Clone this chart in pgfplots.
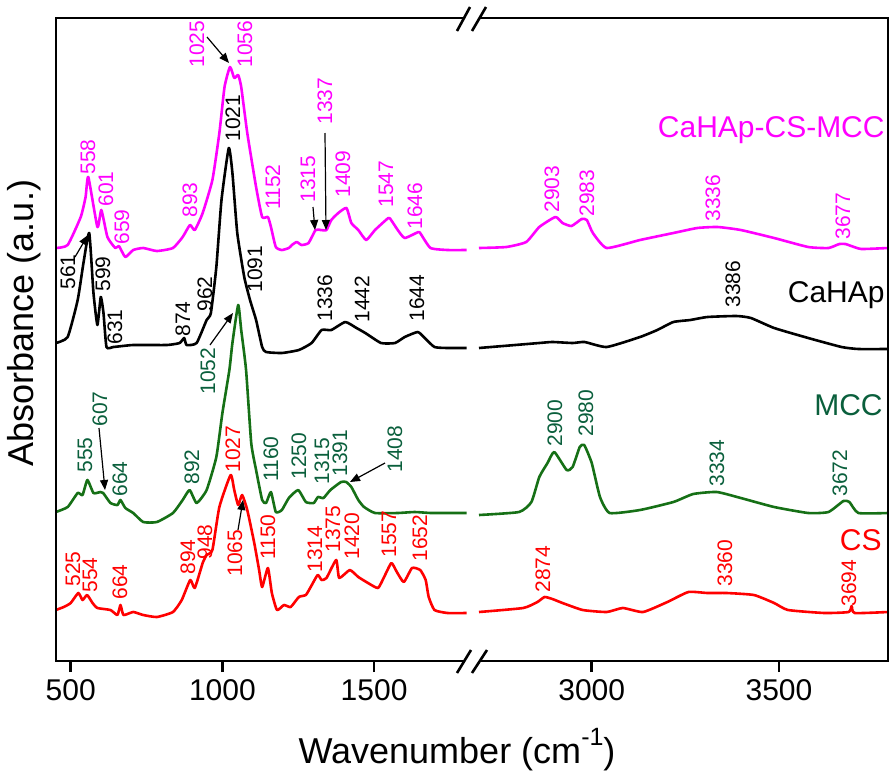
\documentclass[border=0pt]{standalone}
\usepackage{fontspec}
\setmainfont{Liberation Sans}
\usepackage{pgfplots}
\pgfplotsset{compat=1.18}
\usetikzlibrary{arrows.meta}

\definecolor{mag}{RGB}{255,0,255}
\definecolor{grn}{RGB}{22,112,22}
\definecolor{grntxt}{RGB}{10,95,60}
\definecolor{rd}{RGB}{255,0,0}

\pgfplotsset{
  ftir/.style={
    scale only axis, height=321.5pt,
    ymin=0, ymax=643,
    axis line style={draw=none},
    ytick=\empty,
    xtick pos=left,
    tick align=outside,
    major tick length=5.5pt,
    x tick style={line width=1.3pt, black},
    ticklabel style={font=\fontsize{15}{18}\selectfont},
    /pgf/number format/assume math mode=true,
    /pgf/number format/1000 sep={},
    clip=false,
    every axis plot/.append style={line width=1.3pt, line join=round, smooth, tension=0.3},
  },
}
\tikzset{
  pk/.style={rotate=90, anchor=west, inner sep=0pt, font=\fontsize{10.5}{12}\selectfont},
  nm/.style={anchor=base east, inner sep=0pt, font=\fontsize{15}{18}\selectfont},
  arr/.style={line width=0.6pt, -{Triangle[length=5pt, width=4pt]}},
}

\begin{document}
\begin{tikzpicture}
% left part, 450-1826 cm-1  (y = offset absorbance, arbitrary units)
\begin{axis}[ftir, at={(28pt,-330.5pt)}, anchor=south west, width=208.5pt,
  xmin=451.5, xmax=1826, xtick={500,1000,1500}]
% CaHAp-CS-MCC
\addplot[mag] coordinates {
(451,413)(490,416)(533,444)(549,464)(558,484)(588,434)(601,451)(621,424)(647,413)(659,415)
(680,404)(706,411)(739,413)(784,410)(837,413)(869,424)(893,436)(909,431)(935,448)(967,481)
(990,528)(1007,574)(1025,594)(1039,583)(1052,586)(1062,574)(1082,528)(1111,474)(1131,444)
(1150,444)(1160,434)(1176,414)(1196,411)(1219,413)(1229,416)(1245,419)(1261,416)(1284,418)
(1307,431)(1324,431)(1343,431)(1359,441)(1382,448)(1409,453)(1425,438)(1448,431)(1474,421)
(1503,431)(1547,443)(1556,441)(1578,431)(1601,423)(1646,429)(1654,427)(1686,413)(1742,411)(1805,411)
};
% CaHAp
\addplot[black] coordinates {
(451,318)(490,324)(523,361)(542,398)(561,428)(575,368)(588,336)(599,364)(608,348)(618,314)
(641,314)(706,316)(817,316)(859,318)(874,323)(882,316)(915,318)(948,341)(962,348)(980,394)
(997,461)(1021,513)(1033,488)(1049,428)(1072,384)(1091,361)(1111,341)(1131,314)(1144,309)
(1196,308)(1252,311)(1294,318)(1327,331)(1359,331)(1405,339)(1442,333)(1471,328)(1523,318)
(1569,318)(1601,324)(1644,329)(1667,323)(1699,314)(1742,313)(1805,313)
};
% MCC
\addplot[grn] coordinates {
(451,149)(490,154)(523,168)(539,166)(555,181)(575,168)(598,169)(607,168)(631,158)(654,156)
(664,161)(680,153)(706,148)(739,139)(784,139)(837,148)(869,161)(892,171)(915,158)(948,171)
(980,204)(1000,248)(1023,291)(1033,318)(1052,356)(1062,331)(1078,291)(1095,218)(1111,191)
(1131,161)(1144,158)(1160,169)(1176,149)(1196,151)(1219,163)(1250,171)(1275,159)(1301,158)
(1315,164)(1333,163)(1356,171)(1391,179)(1408,179)(1425,174)(1448,161)(1467,154)(1503,148)
(1578,148)(1634,149)(1686,148)(1742,148)(1805,148)
};
% CS
\addplot[rd] coordinates {
(451,51)(477,54)(500,58)(525,68)(539,61)(554,66)(572,58)(588,53)(631,51)(654,46)(664,56)
(674,46)(706,49)(739,46)(784,44)(837,49)(866,61)(894,81)(909,73)(935,98)(948,106)(967,111)
(990,154)(1027,186)(1039,171)(1052,156)(1065,166)(1082,151)(1105,118)(1121,91)(1131,74)
(1150,93)(1163,68)(1180,51)(1203,56)(1225,54)(1252,64)(1275,66)(1291,74)(1314,86)(1327,81)
(1343,83)(1375,101)(1385,83)(1420,91)(1448,84)(1480,78)(1513,73)(1533,84)(1557,98)(1575,89)
(1598,79)(1625,93)(1652,91)(1670,81)(1680,64)(1699,51)(1742,48)(1805,48)
};
\end{axis}

% right part, 2683-3791 cm-1
\begin{axis}[ftir, at={(236.5pt,-330.5pt)}, anchor=south west, width=207.5pt,
  xmin=2683, xmax=3791, xtick={3000,3500}]
\addplot[mag] coordinates {
(2699,413)(2772,414)(2825,419)(2860,434)(2903,444)(2922,438)(2946,435)(2973,442)(2987,441)
(3003,428)(3040,413)(3129,421)(3218,428)(3282,433)(3336,434)(3398,431)(3487,423)(3578,414)
(3632,413)(3661,417)(3677,417)(3693,415)(3720,412)(3791,413)
};
\addplot[black] coordinates {
(2699,313)(2860,318)(2895,319)(2949,318)(2981,319)(3040,314)(3129,324)(3175,331)(3218,339)
(3263,341)(3309,344)(3386,345)(3425,343)(3487,333)(3578,323)(3667,314)(3712,312)(3791,312)
};
\addplot[grn] coordinates {
(2699,146)(2806,149)(2839,159)(2860,184)(2882,198)(2900,209)(2933,191)(2949,194)(2968,214)
(2980,216)(3000,198)(3022,164)(3048,148)(3129,151)(3218,159)(3271,167)(3334,169)(3398,163)
(3487,154)(3578,148)(3632,149)(3672,160)(3688,159)(3712,148)(3791,148)
};
\addplot[rd] coordinates {
(2699,49)(2817,53)(2855,59)(2874,64)(2895,62)(2922,58)(2976,51)(3040,49)(3083,53)(3137,49)
(3202,59)(3258,69)(3309,68)(3360,68)(3433,66)(3487,58)(3524,51)(3621,48)(3686,49)(3694,55)
(3702,48)(3791,49)
};
\end{axis}

% frame, axis break, labels (pixel grid of the figure)
\begin{scope}[x=0.5pt, y=-0.5pt]
\path (0,0) rectangle (891,772);
\draw[line width=1.3pt] (464,18) -- (56,18) -- (56,661) -- (464,661);
\draw[line width=1.3pt] (479,18) -- (888,18) -- (888,661) -- (479,661);
\draw[line width=1.3pt] (457,31) -- (470,7) (472,31) -- (486,7);
\draw[line width=1.3pt] (457,673) -- (471,650) (472,673) -- (487,650);

\node[rotate=90, anchor=base, inner sep=0pt, font=\fontsize{18}{21}\selectfont] at (33,323) {Absorbance (a.u.)};
\node[anchor=base, inner sep=0pt, font=\fontsize{18}{21}\selectfont] at (457,763)
  {Wavenumber (cm\raisebox{9pt}{\fontsize{12.5}{14}\selectfont -1})};

% sample names
\node[nm, text=mag] at (885,137) {CaHAp-CS-MCC};
\node[nm, text=black] at (885,302) {CaHAp};
\node[nm, text=grntxt] at (883,415) {MCC};
\node[nm, text=rd] at (882,550) {CS};

% CaHAp-CS-MCC peaks
\begin{scope}[every node/.style={pk, text=mag}]
\node at (88,175) {558}; \node at (106,207) {601}; \node at (122,245) {659};
\node at (190,218) {893}; \node at (197,68) {1025}; \node at (245,68) {1056};
\node at (273,210) {1152}; \node at (308,203) {1315}; \node at (325,125) {1337};
\node at (343,198) {1409}; \node at (386,208) {1547}; \node at (415,230) {1646};
\node at (552,213) {2903}; \node at (587,217) {2983}; \node at (713,222) {3336};
\node at (843,240) {3677};
\end{scope}
% CaHAp peaks
\begin{scope}[every node/.style={pk, text=black}]
\node at (68,290) {561}; \node at (103,292) {599}; \node at (115,345) {631};
\node at (183,337) {874}; \node at (205,312) {962}; \node at (233,142) {1021};
\node at (255,293) {1091}; \node at (325,322) {1336}; \node at (362,323) {1442};
\node at (417,322) {1644}; \node at (733,308) {3386};
\end{scope}
% MCC peaks
\begin{scope}[every node/.style={pk, text=grntxt}]
\node at (208,395) {1052}; \node at (85,473) {555}; \node at (100,427) {607};
\node at (120,497) {664}; \node at (192,485) {892}; \node at (271,482) {1160};
\node at (299,480) {1250}; \node at (322,485) {1315}; \node at (340,477) {1391};
\node at (395,473) {1408}; \node at (555,447) {2900}; \node at (586,437) {2980};
\node at (717,487) {3334}; \node at (840,497) {3672};
\end{scope}
% CS peaks
\begin{scope}[every node/.style={pk, text=rd}]
\node at (73,587) {525}; \node at (90,593) {554}; \node at (120,600) {664};
\node at (188,575) {894}; \node at (205,560) {948}; \node at (233,473) {1027};
\node at (235,577) {1065}; \node at (268,560) {1150}; \node at (315,573) {1314};
\node at (333,553) {1375}; \node at (352,560) {1420}; \node at (389,558) {1557};
\node at (420,562) {1652}; \node at (543,593) {2874}; \node at (725,587) {3360};
\node at (849,607) {3694};
\end{scope}

% arrows
\draw[arr] (207,37) -- (229,63);
\draw[arr] (313,207) -- (315,230);
\draw[arr] (325,133) -- (326,230);
\draw[arr] (75,257) -- (88,235);
\draw[arr] (210,345) -- (233,313);
\draw[arr] (99,428) -- (105,490);
\draw[arr] (385,463) -- (350,482);
\draw[arr] (238,530) -- (243,500);
\end{scope}
\end{tikzpicture}
\end{document}
